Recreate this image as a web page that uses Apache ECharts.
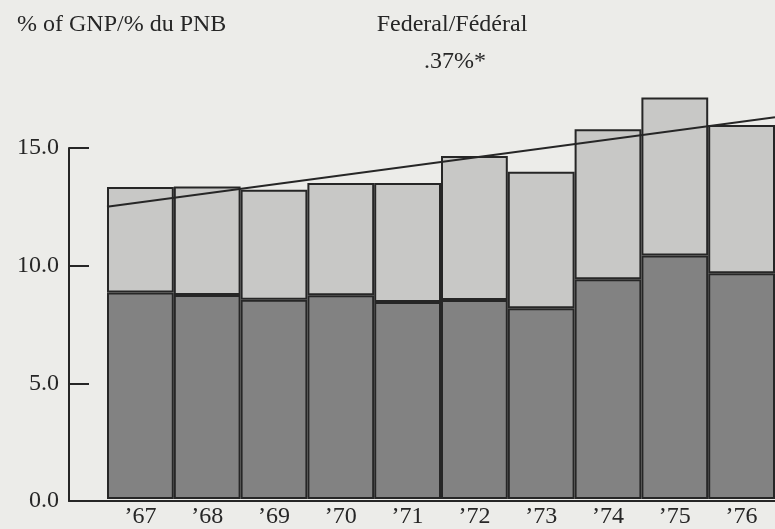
<!DOCTYPE html>
<html>
<head>
<meta charset="utf-8">
<script src="https://cdn.jsdelivr.net/npm/echarts@6/dist/echarts.min.js"></script>
<style>
  html, body { margin: 0; padding: 0; background: #ecece9; }
  #chart { width: 775px; height: 529px; }
</style>
</head>
<body>
<div id="chart"></div>
<script>
// years on the x axis
var years = ['’67', '’68', '’69', '’70', '’71', '’72', '’73', '’74', '’75', '’76']
// federal share (dark lower part), % of GNP
var federal = [8.83, 8.72, 8.52, 8.71, 8.42, 8.50, 8.15, 9.39, 10.41, 9.65]
// remaining share (light upper part), % of GNP
var others = [4.50, 4.63, 4.70, 4.79, 5.08, 6.16, 5.83, 6.41, 6.75, 6.33]
// trend line, start and end of the bar area
var trendX = [0, 10]
var trendY = [12.49, 16.31]

var font = '"Liberation Serif", "DejaVu Serif", serif'
var ink = '#262626'

var chart = echarts.init(document.getElementById('chart'))
chart.setOption({
  backgroundColor: '#ecece9',
  animation: false,
  textStyle: { fontFamily: font, color: ink },
  title: [
    { text: '% of GNP/% du PNB', left: 12, top: 8,
      textStyle: { fontFamily: font, fontSize: 24, fontWeight: 'normal', color: ink } },
    { text: 'Federal/Fédéral', left: 447, top: 8, textAlign: 'center',
      textStyle: { fontFamily: font, fontSize: 24, fontWeight: 'normal', color: ink } },
    { text: '.37%*', left: 450, top: 45, textAlign: 'center',
      textStyle: { fontFamily: font, fontSize: 24, fontWeight: 'normal', color: ink } }
  ],
  grid: [
    { left: 69, right: -4, top: 148, bottom: 28 },
    { left: 107, right: -4, top: 148, bottom: 28 }
  ],
  xAxis: [
    { // frame axis line only
      type: 'value', gridIndex: 0, min: 0, max: 1,
      axisLine: { show: true, lineStyle: { color: ink, width: 2 } },
      axisTick: { show: false }, axisLabel: { show: false }, splitLine: { show: false }
    },
    {
      type: 'category', gridIndex: 1, data: years,
      axisLine: { show: false }, axisTick: { show: false }, splitLine: { show: false },
      axisLabel: { fontFamily: font, fontSize: 24, color: ink, margin: 6 }
    },
    { // for the trend line
      type: 'value', gridIndex: 1, min: 0, max: 10, show: false
    }
  ],
  yAxis: [
    {
      type: 'value', gridIndex: 0, min: 0, max: 15, interval: 5,
      axisLine: { show: true, lineStyle: { color: ink, width: 2 } },
      axisTick: { show: true, inside: true, length: 20, lineStyle: { color: ink, width: 2 } },
      splitLine: { show: false },
      axisLabel: {
        fontFamily: font, fontSize: 24, color: ink, margin: 10,
        formatter: function (v) { return v.toFixed(1) }
      }
    },
    { type: 'value', gridIndex: 1, min: 0, max: 15, show: false }
  ],
  series: [
    {
      name: 'Federal', type: 'bar', stack: 'total',
      xAxisIndex: 1, yAxisIndex: 1, barCategoryGap: 0, clip: false,
      data: federal,
      itemStyle: { color: '#828282', borderColor: ink, borderWidth: 2 }
    },
    {
      name: 'Other', type: 'bar', stack: 'total',
      xAxisIndex: 1, yAxisIndex: 1, barCategoryGap: 0, clip: false,
      data: others,
      itemStyle: { color: '#c8c8c6', borderColor: ink, borderWidth: 2 }
    },
    {
      name: 'Trend', type: 'line', xAxisIndex: 2, yAxisIndex: 1,
      data: trendX.map(function (x, i) { return [x, trendY[i]] }),
      symbol: 'none', clip: false,
      lineStyle: { color: ink, width: 2 }
    }
  ]
})
</script>
</body>
</html>
